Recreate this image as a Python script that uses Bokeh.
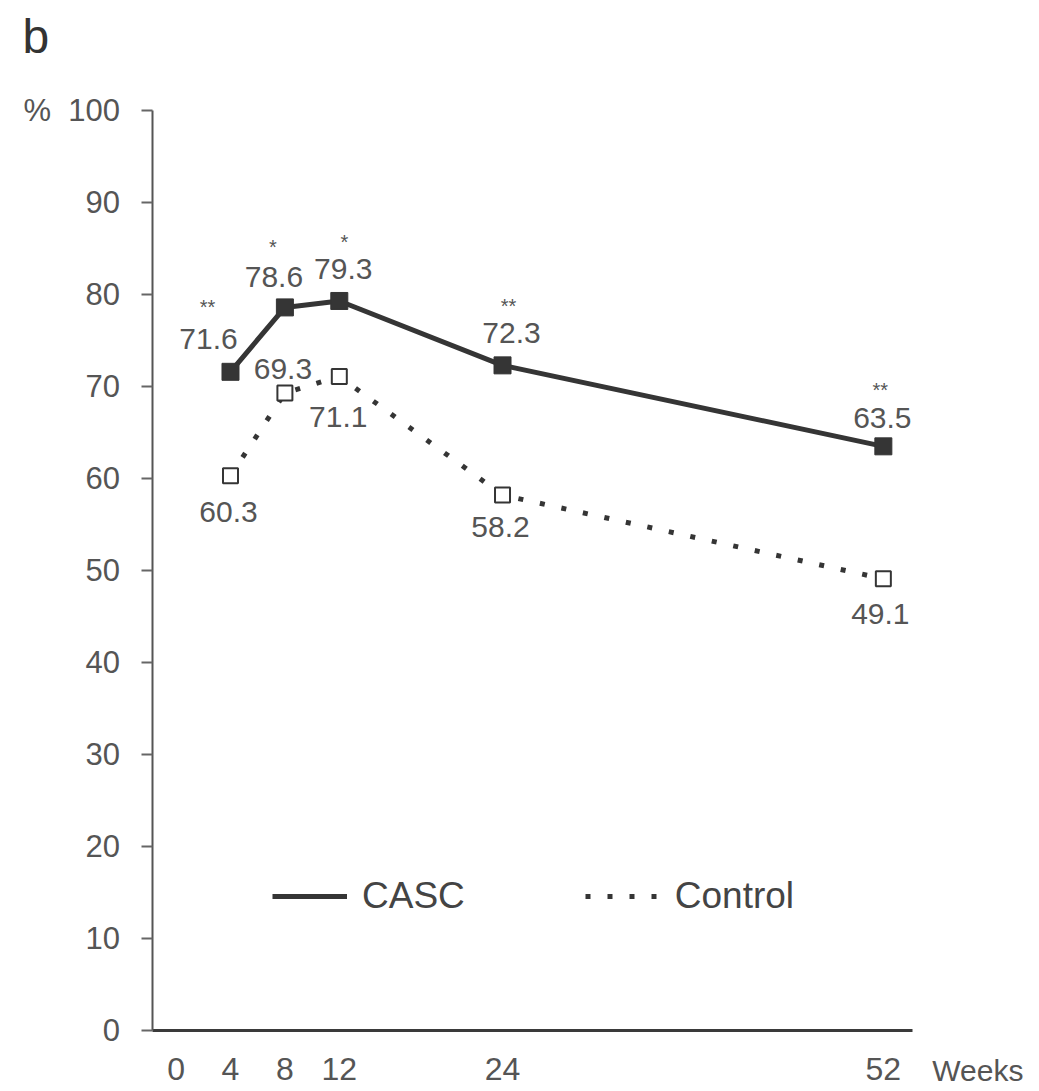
from bokeh.plotting import figure
from bokeh.models import ColumnDataSource, FixedTicker, Label, Legend, LegendItem, Range1d
from bokeh.core.properties import value
from bokeh.embed import file_html
from bokeh.resources import INLINE

# ---- data ----
weeks = [4, 8, 12, 24, 52]
casc = [71.6, 78.6, 79.3, 72.3, 63.5]
control = [60.3, 69.3, 71.1, 58.2, 49.1]
casc_sig = ["**", "*", "*", "**", "**"]
x_ticks = [0, 4, 8, 12, 24, 52]
y_ticks = [0, 10, 20, 30, 40, 50, 60, 70, 80, 90, 100]
panel_label = "b"
x_unit = "Weeks"
y_unit = "%"
series_names = ["CASC", "Control"]

# ---- layout (pixel offsets of the value labels) ----
casc_dx = [-22, -11, 4, 9, -1]
casc_dy = [-33, -30, -32, -32, -28]
ctrl_dx = [-2, -2, -1, -2, -3]
ctrl_dy = [36, -24, 41, 32, 35]
sig_dx = [-23, -12, 5, 6, -3]
sig_dy = [-65, -60, -59, -59, -56]

FONT = "Liberation Sans"
DARK = "#353535"
TXT = "#555555"

# axis extents (data units); the frame spans the whole canvas
X_AXIS_START, X_AXIS_END = -1.77, 54.15
Y_AXIS_START, Y_AXIS_END = 0, 100

p = figure(frame_width=1036, frame_height=1088,
           min_border_left=0, min_border_right=0,
           min_border_top=0, min_border_bottom=0,
           x_range=Range1d(-12.91, 63.26), y_range=Range1d(-6.30, 111.96),
           output_backend="svg", toolbar_location=None,
           background_fill_color="white", border_fill_color="white")
p.outline_line_color = None
p.xgrid.visible = False
p.ygrid.visible = False

# axes
p.xaxis.fixed_location = Y_AXIS_START
p.xaxis.bounds = (X_AXIS_START, X_AXIS_END)
p.xaxis.ticker = FixedTicker(ticks=x_ticks)
p.xaxis.major_tick_out = 0
p.xaxis.major_tick_in = 0
p.xaxis.minor_tick_out = 0
p.xaxis.minor_tick_in = 0
p.xaxis.axis_line_color = "#3a3a3a"
p.xaxis.axis_line_width = 3
p.xaxis.major_label_text_font = FONT
p.xaxis.major_label_text_font_size = "32px"
p.xaxis.major_label_text_color = TXT
p.xaxis.major_label_standoff = 27

p.yaxis.fixed_location = X_AXIS_START
p.yaxis.bounds = (Y_AXIS_START, Y_AXIS_END)
p.yaxis.ticker = FixedTicker(ticks=y_ticks)
p.yaxis.major_tick_out = 11
p.yaxis.major_tick_in = 0
p.yaxis.minor_tick_out = 0
p.yaxis.minor_tick_in = 0
p.yaxis.major_tick_line_color = "#666666"
p.yaxis.major_tick_line_width = 2
p.yaxis.axis_line_color = "#555555"
p.yaxis.axis_line_width = 2
p.yaxis.major_label_text_font = FONT
p.yaxis.major_label_text_font_size = "31px"
p.yaxis.major_label_text_color = TXT
p.yaxis.major_label_standoff = 21
p.yaxis.major_label_overrides = {100: y_unit + "\u00a0 100"}

# series
src_c = ColumnDataSource(dict(x=weeks, y=casc, lab=[f"{v:.1f}" for v in casc],
                              dx=casc_dx, dy=casc_dy, sig=casc_sig, sdx=sig_dx, sdy=sig_dy))
src_k = ColumnDataSource(dict(x=weeks, y=control, lab=[f"{v:.1f}" for v in control],
                              dx=ctrl_dx, dy=ctrl_dy))

ctrl_line = p.line("x", "y", source=src_k, line_color=DARK, line_width=5,
                   line_dash="5 17", line_cap="butt")
p.scatter("x", "y", source=src_k, marker="square", size=15,
          fill_color="white", line_color=DARK, line_width=2)

casc_line = p.line("x", "y", source=src_c, line_color=DARK, line_width=5)
p.scatter("x", "y", source=src_c, marker="square", size=17,
          fill_color=DARK, line_color=DARK)

# value labels
p.text("x", "y", text="lab", source=src_c, x_offset="dx", y_offset="dy",
       text_align="center", text_baseline="middle", text_font=value(FONT),
       text_font_size="30px", text_color=TXT)
p.text("x", "y", text="lab", source=src_k, x_offset="dx", y_offset="dy",
       text_align="center", text_baseline="middle", text_font=value(FONT),
       text_font_size="30px", text_color=TXT)
p.text("x", "y", text="sig", source=src_c, x_offset="sdx", y_offset="sdy",
       text_align="center", text_baseline="alphabetic", text_font=value(FONT),
       text_font_size="20px", text_color=TXT)

# legend
legend = Legend(items=[LegendItem(label=series_names[0], renderers=[casc_line]),
                       LegendItem(label=series_names[1], renderers=[ctrl_line])],
                orientation="horizontal", location=(272, 171),
                glyph_width=75, glyph_height=30, label_standoff=15, spacing=120,
                padding=0, margin=0, border_line_color=None, background_fill_alpha=0,
                label_text_font=FONT, label_text_font_size="37px", label_text_color="#444444")
p.add_layout(legend)

# panel letter and x unit
p.add_layout(Label(x=-11.29, y=108.0, text=panel_label, text_font=FONT,
                   text_font_size="48px", text_color="#333333",
                   text_align="left", text_baseline="middle"))
p.add_layout(Label(x=55.6, y=-4.35, text=x_unit, text_font=FONT,
                   text_font_size="30px", text_color=TXT,
                   text_align="left", text_baseline="middle"))

open("out.html", "w").write(file_html(p, INLINE))
